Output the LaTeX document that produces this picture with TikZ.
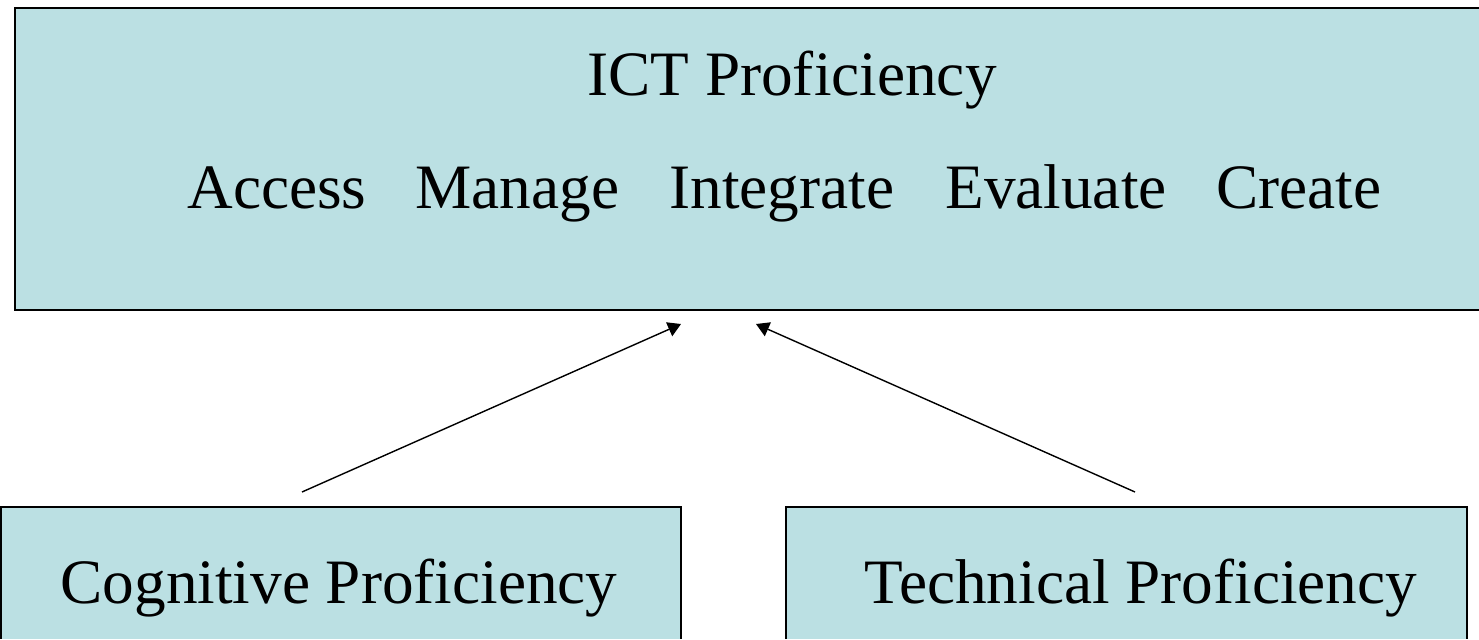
\documentclass[tikz,border=0pt]{standalone}
\usepackage{fontspec}
\newfontfamily\libserif{Liberation Serif}
\usetikzlibrary{arrows.meta}
\definecolor{boxblue}{RGB}{187,224,227}
\begin{document}
\begin{tikzpicture}[x=0.02cm,y=-0.02cm,
  box/.style={fill=boxblue},
  word/.style={font=\libserif\fontsize{36}{43}\selectfont,inner sep=0pt},
  link/.style={-{Triangle[length=0.26cm,width=0.3cm]},line width=0.8pt}]
  \useasboundingbox (0,0) rectangle (1479,639);
  % boxes (cut by the page edge)
  \fill[box](15,8) rectangle (1479,310);
  \draw[line width=1.3pt](1479,8)--(15,8)--(15,310)--(1479,310);
  \fill[box](1,507) rectangle (681,639);
  \draw[line width=1pt](1,639)--(1,507)--(681,507)--(681,639);
  \fill[box](786,507) rectangle (1467,639);
  \draw[line width=1pt](786,639)--(786,507)--(1467,507)--(1467,639);
  % texts
  \node[word,anchor=base] (ict) at (792,95) {ICT Proficiency};
  \node[word,anchor=base west] (access) at (187,208) {Access};
  \node[word,anchor=base west] (manage) at (415,208) {Manage};
  \node[word,anchor=base west] (integrate) at (669,208) {Integrate};
  \node[word,anchor=base west] (evaluate) at (945,208) {Evaluate};
  \node[word,anchor=base west] (create) at (1216,208) {Create};
  \node[word,anchor=base] (cognitive) at (339,603) {Cognitive Proficiency};
  \node[word,anchor=base] (technical) at (1141,603) {Technical Proficiency};
  % arrows
  \coordinate (cogtop) at (302,492);
  \coordinate (techtop) at (1135,492);
  \coordinate (ictleft) at (681,324);
  \coordinate (ictright) at (756,324);
  \draw[link](cogtop)--(ictleft);
  \draw[link](techtop)--(ictright);
\end{tikzpicture}
\end{document}
